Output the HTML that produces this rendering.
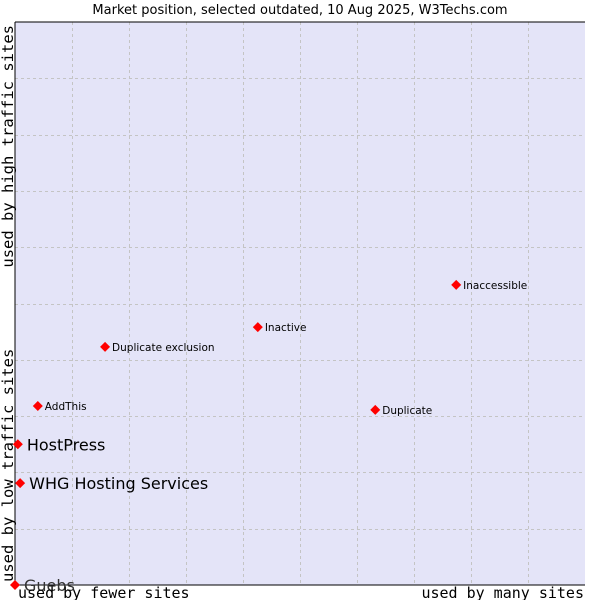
<!DOCTYPE html>
<html><head><meta charset="utf-8"><style>body{margin:0;background:#fff}svg{display:block}</style></head>
<body>
<svg id="c" width="600" height="600" xmlns="http://www.w3.org/2000/svg" font-family="'DejaVu Sans', sans-serif">
<text x="300" y="14" text-anchor="middle" font-size="13" fill="#000">Market position, selected outdated, 10 Aug 2025, W3Techs.com</text>
<rect x="15" y="22" width="570" height="563" fill="#e4e4f8"/>
<g id="grid"></g>
<line x1="15" y1="22" x2="585" y2="22" stroke="#000"/>
<line x1="15" y1="22" x2="15" y2="585" stroke="#000"/>
<line x1="15" y1="585" x2="585" y2="585" stroke="#000"/>
<g id="pts"></g>
<text x="18" y="598" font-family="'DejaVu Sans Mono', monospace" font-size="15">used by fewer sites</text>
<text x="584" y="598" text-anchor="end" font-family="'DejaVu Sans Mono', monospace" font-size="15">used by many sites</text>
<text transform="translate(13,582) rotate(-90)" font-family="'DejaVu Sans Mono', monospace" font-size="15.5">used by low traffic sites</text>
<text transform="translate(13,25) rotate(-90)" text-anchor="end" font-family="'DejaVu Sans Mono', monospace" font-size="15.5">used by high traffic sites</text>
</svg>
<script>
const names=["Inaccessible","Inactive","Duplicate exclusion","AddThis","Duplicate","HostPress","WHG Hosting Services","Guebs"];
const xVals=[77.4,42.6,15.8,4.0,63.2,0.5,0.9,0];
const yVals=[53.3,45.8,42.3,31.8,31.1,25.0,18.1,0];
const big=[false,false,false,false,false,true,true,true];
const NS="http://www.w3.org/2000/svg";
const X=v=>15+v*5.7, Y=v=>585-v*5.63;
const grid=document.getElementById('grid');
for(let i=1;i<10;i++){
  const gx=Math.round(15+i*570/10)+0.5, gy=Math.round(22+i*563/10)+0.5;
  let l=document.createElementNS(NS,'line');
  
  
  l.setAttribute('x1',gx);l.setAttribute('x2',gx);l.setAttribute('y1',22);l.setAttribute('y2',585);
  l.setAttribute('stroke','#c4c4c4');l.setAttribute('stroke-dasharray','3,3');grid.appendChild(l);
  l=document.createElementNS(NS,'line');
  
  
  l.setAttribute('y1',gy);l.setAttribute('y2',gy);l.setAttribute('x1',15);l.setAttribute('x2',585);
  l.setAttribute('stroke','#c4c4c4');l.setAttribute('stroke-dasharray','3,3');grid.appendChild(l);
}
const pts=document.getElementById('pts');
names.forEach((n,i)=>{
  const x=X(xVals[i]),y=Y(yVals[i]);
  const p=document.createElementNS(NS,'polygon');
  
  
  p.setAttribute('points',`${x},${y-5} ${x+5},${y} ${x},${y+5} ${x-5},${y}`);
  p.setAttribute('fill','#f00');pts.appendChild(p);
  const t=document.createElementNS(NS,'text');
  
  
  t.setAttribute('x',x+(big[i]?9:7));t.setAttribute('y',y+(big[i]?6:4));
  t.setAttribute('font-size',big[i]?16:10.5);
  t.setAttribute('fill',i==7?'#333':'#000');
  t.textContent=n;pts.appendChild(t);
});
</script>
</body></html>
